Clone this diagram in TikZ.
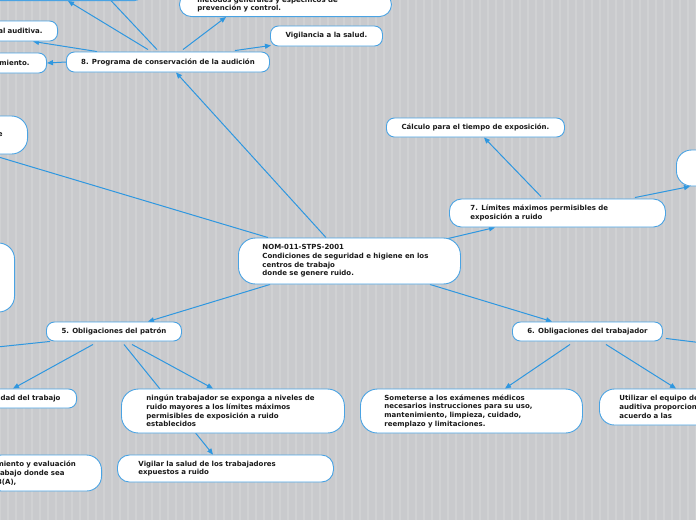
\documentclass[tikz,border=0pt]{standalone}
\usepackage{fontspec}
\usepackage{tikz}
\usetikzlibrary{arrows.meta,calc}
\newfontfamily\mapfamily{DejaVu Sans}
\definecolor{paper}{HTML}{C9CACD}
\definecolor{paperline}{HTML}{D0D1D3}
\definecolor{edgeblue}{HTML}{4AA3E3}
\definecolor{linkblue}{HTML}{2E97E0}
\definecolor{ink}{HTML}{1A1A1A}
\pgfdeclarelayer{sheet}
\pgfdeclarelayer{wires}
\pgfsetlayers{sheet,wires,main}
\tikzset{
  pill/.style={draw=edgeblue,fill=white,rounded corners=8pt,line width=0.9pt,
    font=\mapfamily\fontsize{7}{8.7}\selectfont\bfseries,text=ink,inner sep=0pt,
    minimum height=20pt,align=center},
  note/.style={pill,rounded corners=17pt,align=left},
  link/.style={-{Triangle[length=6pt,width=5pt]},line width=1pt,draw=linkblue},
  gridline/.style={draw=paperline,line width=2pt},
}

\begin{document}
\begin{tikzpicture}[x=1pt,y=-1pt]
  \useasboundingbox (0,0) rectangle (696,520);
  \clip (0,0) rectangle (696,520);
  \begin{pgfonlayer}{sheet}
    \fill[paper] (0,0) rectangle (696,520);
    \draw[gridline,step=8] (0,0) grid (696,520);
  \end{pgfonlayer}

  % central topic
  \node[note,text width=174pt,inner xsep=24pt,minimum height=46pt,anchor=west] (root) at (238,261)
    {NOM-011-STPS-2001\\Condiciones de seguridad e higiene en los\\centros de trabajo\\donde se genere ruido.};

  % 8. programa
  \node[pill,minimum width=203pt,anchor=west] (prog) at (66,62) {8. Programa de conservación de la audición};
  \node[pill,minimum width=112pt,anchor=west] (vig) at (270,36) {Vigilancia a la salud.};
  \node[note,rounded corners=12pt,text width=176pt,inner xsep=18pt,minimum height=24pt,anchor=south west] (metodos) at (179,17)
    {métodos generales y específicos de\\prevención y control.};
  \node[pill,align=right,text width=75pt,inner xsep=15pt,anchor=east] (auditiva) at (58,31) {al auditiva.};
  \node[pill,align=right,text width=70pt,inner xsep=17pt,anchor=east] (seguim) at (47,63) {amiento.};
  \node[pill,minimum width=200pt,anchor=south east] (topleft) at (143,1) {};
  \coordinate (offtop) at (54,-60);

  % left side
  \node[note,rounded corners=16pt,align=right,text width=70pt,inner xsep=25pt,minimum height=38pt,anchor=east] (leftup) at (28,135) {e};
  \node[note,rounded corners=16pt,minimum width=90pt,minimum height=69pt,anchor=east] (leftmid) at (15,277.5) {};

  % 5. patron
  \node[pill,minimum width=135pt,minimum height=19pt,anchor=west] (patron) at (46,331.5) {5. Obligaciones del patrón};
  \node[pill,align=right,text width=80pt,inner xsep=16pt,minimum height=19pt,anchor=east] (idad) at (77,398.5) {idad del trabajo};
  \node[note,text width=173pt,inner xsep=25pt,minimum height=44pt,anchor=west] (ningun) at (121,411)
    {ningún trabajador se exponga a niveles de\\ruido mayores a los límites máximos\\permisibles de exposición a ruido\\establecidos};
  \node[note,rounded corners=12pt,text width=174pt,inner xsep=21pt,minimum height=27pt,anchor=west] (salud) at (117,468.5)
    {Vigilar la salud de los trabajadores\\expuestos a ruido};
  \node[note,rounded corners=15pt,text width=95pt,inner xsep=10pt,minimum height=36pt,anchor=east] (recon) at (102,473)
    {miento y evaluación\\rabajo donde sea\\B(A),};
  \coordinate (offleft) at (-60,353);

  % 6. trabajador
  \node[pill,minimum width=150pt,minimum height=19pt,anchor=west] (trab) at (512,331.5) {6. Obligaciones del trabajador};
  \node[note,text width=174pt,inner xsep=24pt,minimum height=44pt,anchor=west] (examen) at (360,411)
    {Someterse a los exámenes médicos\\necesarios instrucciones para su uso,\\mantenimiento, limpieza, cuidado,\\reemplazo y limitaciones.};
  \node[note,rounded corners=15pt,text width=180pt,inner xsep=20pt,minimum height=36pt,anchor=west] (equipo) at (599,407)
    {Utilizar el equipo de\\auditiva proporcion\\acuerdo a las};
  \coordinate (offright) at (760,350);

  % 7. limites
  \node[note,rounded corners=12pt,text width=174pt,inner xsep=21pt,minimum height=28pt,anchor=west] (limites) at (449,213)
    {7. Límites máximos permisibles de\\exposición a ruido};
  \node[pill,minimum width=178pt,minimum height=19pt,anchor=west] (calculo) at (386,127.5) {Cálculo para el tiempo de exposición.};
  \node[note,rounded corners=15pt,minimum width=80pt,minimum height=36pt,anchor=west] (rightbox) at (676,168) {};

  \begin{pgfonlayer}{wires}
    \clip (0,0) rectangle (696,520);
    \draw[link] ($(root.north west)+(88,0)$) -- ($(prog.south west)+(110,0)$);
    \draw[link] ($(root.north west)+(30,0)$) -- ($(leftup.south east)+(-38,0)$);
    \draw[link] ($(root.south west)+(32,0)$) -- ($(patron.north west)+(102,0)$);
    \draw[link] ($(root.south west)+(192,0)$) -- ($(trab.north west)+(40,0)$);
    \draw[link] ($(root.north east)+(-13,1)$) -- ($(limites.south west)+(46,0)$);
    \draw[link] ($(prog.north west)+(31,0)$) -- ($(auditiva.south east)+(-25,0)$);
    \draw[link] (prog.west) -- (seguim.east);
    \draw[link] ($(prog.north west)+(82,-2)$) -- ($(topleft.south east)+(-75,0)$);
    \draw[link] ($(prog.north west)+(91,-2)$) -- (offtop);
    \draw[link] ($(prog.north west)+(117,-2)$) -- ($(metodos.south west)+(47,0)$);
    \draw[link] ($(prog.north east)+(-35,-1)$) -- ($(vig.south west)+(1,-1)$);
    \draw[link] ($(patron.south west)+(4,0)$) -- (offleft);
    \draw[link] ($(patron.south west)+(47,3)$) -- ($(idad.north east)+(-64,0)$);
    \draw[link] ($(patron.south west)+(86,3)$) -- ($(ningun.north west)+(92,0)$);
    \draw[link] ($(patron.south west)+(78,3)$) -- ($(salud.north west)+(96,0)$);
    \draw[link] ($(trab.south east)+(3,-3)$) -- (offright);
    \draw[link] ($(trab.south west)+(58,3)$) -- ($(examen.north west)+(145,0)$);
    \draw[link] ($(trab.south west)+(94,3)$) -- ($(equipo.north west)+(77,0)$);
    \draw[link] ($(limites.north west)+(92,-2)$) -- ($(calculo.south west)+(98,0)$);
    \draw[link] ($(limites.north east)+(-31,-1)$) -- ($(rightbox.south west)+(14,0)$);
  \end{pgfonlayer}
\end{tikzpicture}
\end{document}
